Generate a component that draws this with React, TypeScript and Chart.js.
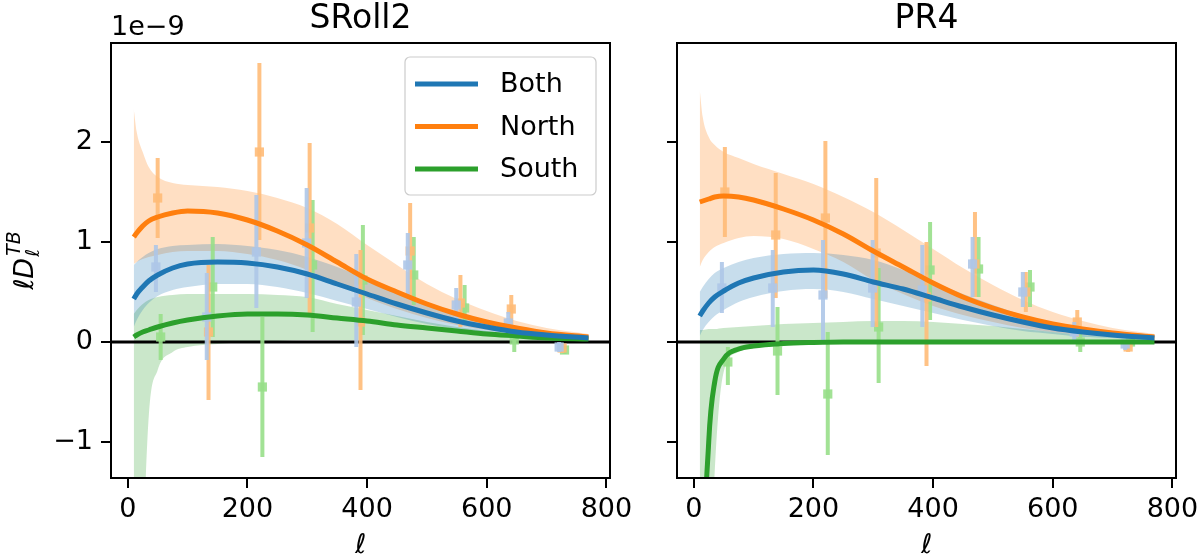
import React, { useEffect, useRef } from "react";
import { Chart, registerables } from "chart.js";

Chart.register(...registerables);

const FONT = "'DejaVu Sans', sans-serif";

// ---------- axes ----------
const xTicks = [0, 200, 400, 600, 800];
const yTicks = [-1, 0, 1, 2];
const yTickLabels = ["\u22121", "0", "1", "2"];
const xRange = [-28, 806];
const yRange = [-1.36, 2.99];

// ---------- multipole grid for model curves ----------
const ELL = [10, 15, 25, 35, 50, 75, 100, 150, 200, 250, 300, 350, 400, 450, 500, 550, 600, 650, 700, 770];

// ---------- SRoll2 model curves (units of 1e-9) ----------
const srBoth = [0.43, 0.48, 0.55, 0.61, 0.67, 0.74, 0.78, 0.8, 0.79, 0.75, 0.68, 0.58, 0.48, 0.38, 0.29, 0.21, 0.15, 0.1, 0.07, 0.04];
const srBothHi = [0.77, 0.8, 0.85, 0.89, 0.93, 0.96, 0.97, 0.98, 0.96, 0.92, 0.85, 0.75, 0.63, 0.5, 0.38, 0.28, 0.2, 0.14, 0.09, 0.05];
const srBothLo = [0.15, 0.22, 0.32, 0.39, 0.46, 0.52, 0.55, 0.58, 0.58, 0.55, 0.49, 0.41, 0.33, 0.25, 0.18, 0.13, 0.09, 0.06, 0.04, 0.02];
const srNorth = [1.05, 1.09, 1.16, 1.21, 1.25, 1.29, 1.31, 1.29, 1.22, 1.11, 0.97, 0.8, 0.63, 0.5, 0.38, 0.28, 0.2, 0.14, 0.09, 0.05];
const srNorthHi = [2.33, 2.1, 1.9, 1.75, 1.65, 1.59, 1.57, 1.55, 1.51, 1.44, 1.34, 1.18, 0.97, 0.77, 0.58, 0.43, 0.31, 0.21, 0.14, 0.08];
const srNorthLo = [0.78, 0.8, 0.83, 0.85, 0.87, 0.9, 0.91, 0.91, 0.88, 0.82, 0.72, 0.58, 0.44, 0.33, 0.24, 0.17, 0.12, 0.08, 0.05, 0.03];
const srSouth = [0.05, 0.07, 0.1, 0.12, 0.15, 0.19, 0.22, 0.26, 0.28, 0.28, 0.27, 0.24, 0.21, 0.17, 0.14, 0.11, 0.08, 0.06, 0.04, 0.03];
const srSouthHi = [0.28, 0.32, 0.38, 0.42, 0.45, 0.47, 0.48, 0.48, 0.48, 0.47, 0.45, 0.38, 0.32, 0.26, 0.2, 0.15, 0.11, 0.08, 0.06, 0.045];
const srSouthLo = [-5, -4, -2.2, -0.75, -0.28, -0.1, -0.05, -0.02, 0, 0.01, 0.02, 0.02, 0.02, 0.02, 0.02, 0.01, 0.01, 0.01, 0.01, 0.01];

// ---------- PR4 model curves ----------
const prBoth = [0.26, 0.31, 0.39, 0.45, 0.51, 0.59, 0.64, 0.7, 0.72, 0.68, 0.6, 0.53, 0.44, 0.35, 0.27, 0.2, 0.14, 0.1, 0.07, 0.04];
const prBothHi = [0.5, 0.55, 0.63, 0.69, 0.74, 0.8, 0.84, 0.88, 0.89, 0.87, 0.82, 0.72, 0.6, 0.48, 0.37, 0.27, 0.19, 0.13, 0.09, 0.05];
const prBothLo = [0.06, 0.12, 0.2, 0.26, 0.32, 0.4, 0.45, 0.51, 0.53, 0.5, 0.43, 0.36, 0.29, 0.22, 0.16, 0.11, 0.08, 0.05, 0.04, 0.02];
const prNorth = [1.4, 1.41, 1.43, 1.45, 1.46, 1.45, 1.42, 1.33, 1.22, 1.08, 0.91, 0.75, 0.59, 0.45, 0.34, 0.25, 0.18, 0.13, 0.09, 0.05];
const prNorthHi = [2.52, 2.25, 2.05, 1.97, 1.9, 1.84, 1.78, 1.68, 1.58, 1.45, 1.3, 1.12, 0.93, 0.74, 0.57, 0.42, 0.3, 0.21, 0.14, 0.08];
const prNorthLo = [0.75, 0.82, 0.9, 0.95, 0.99, 1.04, 1.06, 1.03, 0.93, 0.8, 0.62, 0.48, 0.36, 0.27, 0.2, 0.14, 0.1, 0.07, 0.05, 0.03];
const prSouth = [-6, -2.8, -1.0, -0.4, -0.17, -0.07, -0.04, -0.015, -0.005, 0, 0, 0, 0, 0, 0, 0, 0, 0, 0, 0];
const prSouthHi = [0.12, 0.12, 0.13, 0.13, 0.14, 0.15, 0.16, 0.18, 0.19, 0.2, 0.21, 0.21, 0.2, 0.18, 0.16, 0.13, 0.1, 0.07, 0.05, 0.03];
const prSouthLo = [-6, -5, -3, -1.3, -0.3, -0.1, -0.05, -0.02, -0.01, 0, 0, 0, 0, 0, 0, 0, 0, 0, 0, 0];

// ---------- SRoll2 binned data points ----------
const srBothEll = [47, 132, 215, 299, 382, 468, 549, 636, 721];
const srBothVal = [0.75, 0.25, 0.9, 0.99, 0.4, 0.77, 0.37, 0.19, -0.05];
const srBothErrLo = [0.5, -0.18, 0.34, 0.44, -0.05, 0.47, 0.22, 0.09, -0.1];
const srBothErrHi = [0.97, 0.69, 1.47, 1.54, 0.88, 1.09, 0.54, 0.3, 0.0];
const srNorthEll = [50, 135, 220, 304, 389, 472, 556, 641, 726];
const srNorthVal = [1.44, 0.1, 1.9, 1.14, 0.2, 0.91, 0.39, 0.33, -0.06];
const srNorthErrLo = [1.04, -0.58, 1.02, 0.29, -0.48, 0.44, 0.15, 0.17, -0.11];
const srNorthErrHi = [1.84, 0.77, 2.79, 1.99, 0.92, 1.39, 0.67, 0.47, -0.01];
const srSouthEll = [55, 142, 225, 309, 393, 478, 563, 646, 730];
const srSouthVal = [0.05, 0.55, -0.45, 0.77, 0.62, 0.67, 0.34, 0.02, -0.08];
const srSouthErrLo = [-0.18, 0.05, -1.15, 0.1, 0.07, 0.37, 0.19, -0.1, -0.12];
const srSouthErrHi = [0.28, 1.05, 0.25, 1.42, 1.17, 1.05, 0.57, 0.08, -0.04];

// ---------- PR4 binned data points ----------
const prBothEll = [47, 132, 216, 299, 382, 466, 550, 636, 721];
const prBothVal = [0.54, 0.54, 0.47, 0.54, 0.52, 0.78, 0.5, 0.1, -0.02];
const prBothErrLo = [0.29, 0.15, 0.0, 0.15, 0.15, 0.45, 0.35, 0.0, -0.08];
const prBothErrHi = [0.8, 0.92, 1.02, 1.02, 0.97, 1.05, 0.7, 0.2, 0.02];
const prNorthEll = [52, 137, 220, 305, 389, 470, 555, 641, 726];
const prNorthVal = [1.5, 1.07, 1.24, 0.89, 0.45, 0.78, 0.5, 0.2, -0.05];
const prNorthErrLo = [1.05, 0.44, 0.44, 0.15, -0.24, 0.45, 0.3, 0.05, -0.1];
const prNorthErrHi = [1.95, 1.69, 2.01, 1.64, 1.0, 1.3, 0.7, 0.32, 0.0];
const prSouthEll = [57, 140, 224, 309, 395, 476, 562, 646, 730];
const prSouthVal = [-0.2, -0.09, -0.52, 0.15, 0.72, 0.73, 0.55, 0.0, 0.0];
const prSouthErrLo = [-0.43, -0.53, -1.13, -0.41, 0.22, 0.45, 0.35, -0.1, -0.03];
const prSouthErrHi = [-0.05, 0.35, 0.1, 0.74, 1.2, 1.05, 0.72, 0.08, 0.03];

const legendLabels = ["Both", "North", "South"];

// ---------- colours ----------
const MAIN = ["#1f77b4", "#ff7f0e", "#2ca02c"];
const LIGHT = ["rgba(174,199,232,0.9)", "rgba(255,187,120,0.9)", "rgba(152,223,138,0.9)"];
const BAND = ["rgba(31,119,180,0.25)", "rgba(255,127,14,0.25)", "rgba(44,160,44,0.25)"];

const zip = (xs: number[], ys: number[]) => xs.map((x, i) => ({ x, y: ys[i] }));

type Series = {
  curve: number[]; hi: number[]; lo: number[];
  ell: number[]; val: number[]; errLo: number[]; errHi: number[];
};

const SROLL2: Series[] = [
  { curve: srBoth, hi: srBothHi, lo: srBothLo, ell: srBothEll, val: srBothVal, errLo: srBothErrLo, errHi: srBothErrHi },
  { curve: srNorth, hi: srNorthHi, lo: srNorthLo, ell: srNorthEll, val: srNorthVal, errLo: srNorthErrLo, errHi: srNorthErrHi },
  { curve: srSouth, hi: srSouthHi, lo: srSouthLo, ell: srSouthEll, val: srSouthVal, errLo: srSouthErrLo, errHi: srSouthErrHi },
];
const PR4: Series[] = [
  { curve: prBoth, hi: prBothHi, lo: prBothLo, ell: prBothEll, val: prBothVal, errLo: prBothErrLo, errHi: prBothErrHi },
  { curve: prNorth, hi: prNorthHi, lo: prNorthLo, ell: prNorthEll, val: prNorthVal, errLo: prNorthErrLo, errHi: prNorthErrHi },
  { curve: prSouth, hi: prSouthHi, lo: prSouthLo, ell: prSouthEll, val: prSouthVal, errLo: prSouthErrLo, errHi: prSouthErrHi },
];

const errorBarPlugin = {
  id: "errbars",
  beforeDatasetDraw(chart: any, args: any) {
    const ds: any = chart.data.datasets[args.index];
    if (!ds.errLo) return;
    const { ctx, chartArea: a, scales } = chart;
    ctx.save();
    ctx.beginPath();
    ctx.rect(a.left, a.top, a.right - a.left, a.bottom - a.top);
    ctx.clip();
    ctx.strokeStyle = ds.errColor;
    ctx.lineWidth = 4;
    ds.data.forEach((p: any, i: number) => {
      const x = scales.x.getPixelForValue(p.x);
      ctx.beginPath();
      ctx.moveTo(x, scales.y.getPixelForValue(ds.errLo[i]));
      ctx.lineTo(x, scales.y.getPixelForValue(ds.errHi[i]));
      ctx.stroke();
    });
    ctx.restore();
  },
};

function textPlugin(title: string, isLeft: boolean) {
  return {
    id: "texts",
    afterDraw(chart: any) {
      const { ctx, chartArea: a } = chart;
      ctx.save();
      ctx.strokeStyle = "#000";
      ctx.lineWidth = 2;
      ctx.strokeRect(a.left, a.top, a.right - a.left, a.bottom - a.top);
      const cx = (a.left + a.right) / 2;
      ctx.fillStyle = "#000";
      ctx.textBaseline = "alphabetic";
      ctx.textAlign = "center";
      ctx.font = `33px ${FONT}`;
      ctx.fillText(title, cx, 28);
      ctx.font = `italic 27px ${FONT}`;
      ctx.fillText("\u2113", cx, 553);
      if (isLeft) {
        ctx.textAlign = "left";
        ctx.font = `27px ${FONT}`;
        ctx.fillText("1e\u22129", a.left, 35);

        // y-axis label: l D_l^{TB}
        const main = `italic 27px ${FONT}`;
        const small = `italic 19px ${FONT}`;
        ctx.font = main;
        const wMain = ctx.measureText("\u2113D").width;
        ctx.font = small;
        const wSub = ctx.measureText("\u2113").width;
        const wSup = ctx.measureText("TB").width;
        const total = wMain + Math.max(wSub, wSup) + 2;
        ctx.translate(33, (a.top + a.bottom) / 2);
        ctx.rotate(-Math.PI / 2);
        const x0 = -total / 2;
        ctx.font = main;
        ctx.fillText("\u2113D", x0, 0);
        ctx.font = small;
        ctx.fillText("TB", x0 + wMain + 2, -13);
        ctx.fillText("\u2113", x0 + wMain + 1, 6);
        ctx.setTransform(1, 0, 0, 1, 0, 0);

        // legend
        const bx = 405, by = 57, bw = 191, bh = 138;
        ctx.beginPath();
        ctx.roundRect(bx, by, bw, bh, 5);
        ctx.fillStyle = "rgba(255,255,255,0.8)";
        ctx.fill();
        ctx.strokeStyle = "#cccccc";
        ctx.lineWidth = 1.2;
        ctx.stroke();
        ctx.font = `27px ${FONT}`;
        ctx.textBaseline = "middle";
        legendLabels.forEach((lab, i) => {
          const y = 84 + i * 42.5;
          ctx.strokeStyle = MAIN[i];
          ctx.lineWidth = 5;
          ctx.beginPath();
          ctx.moveTo(415, y);
          ctx.lineTo(478, y);
          ctx.stroke();
          ctx.fillStyle = "#000";
          ctx.fillText(lab, 500, y + 1);
        });
      }
      ctx.restore();
    },
  };
}

function buildConfig(series: Series[], title: string, isLeft: boolean, axisWidth: number, padRight: number) {
  const datasets: any[] = [];
  series.forEach((s, i) => {
    datasets.push({
      data: zip(ELL, s.hi), borderWidth: 0, borderColor: "transparent", pointRadius: 0,
      fill: "+1", backgroundColor: BAND[i], order: 40, cubicInterpolationMode: "monotone",
    });
    datasets.push({
      data: zip(ELL, s.lo), borderWidth: 0, borderColor: "transparent", pointRadius: 0,
      fill: false, order: 40, cubicInterpolationMode: "monotone",
    });
  });
  datasets.push({
    data: [{ x: -100, y: 0 }, { x: 1000, y: 0 }], borderColor: "#000", borderWidth: 3,
    pointRadius: 0, fill: false, order: 30,
  });
  series.forEach((s, i) => {
    datasets.push({
      data: zip(s.ell, s.val), showLine: false, pointStyle: "rect", pointRadius: 6.5,
      backgroundColor: LIGHT[i], borderWidth: 0, order: 20,
      errLo: s.errLo, errHi: s.errHi, errColor: LIGHT[i],
    });
  });
  series.forEach((s, i) => {
    datasets.push({
      data: zip(ELL, s.curve), borderColor: MAIN[i], borderWidth: 5, pointRadius: 0,
      fill: false, order: 10, cubicInterpolationMode: "monotone",
    });
  });

  return {
    type: "line",
    data: { datasets },
    options: {
      animation: false,
      responsive: false,
      events: [],
      layout: { padding: { top: 43, left: 0, right: padRight, bottom: 0 } },
      plugins: { legend: { display: false }, tooltip: { enabled: false } },
      scales: {
        x: {
          type: "linear",
          min: xRange[0],
          max: xRange[1],
          afterBuildTicks: (sc: any) => { sc.ticks = xTicks.map((v) => ({ value: v })); },
          afterFit: (sc: any) => { sc.height = 82; sc.paddingLeft = 0; sc.paddingRight = 0; },
          ticks: {
            color: "#000", font: { size: 27, family: FONT }, padding: 6,
            maxRotation: 0, autoSkip: false, callback: (v: any) => String(v),
          },
          grid: { drawOnChartArea: false, drawTicks: true, tickLength: 10, color: "#000", lineWidth: 2 },
          border: { display: false },
        },
        y: {
          type: "linear",
          min: yRange[0],
          max: yRange[1],
          afterBuildTicks: (sc: any) => { sc.ticks = yTicks.map((v) => ({ value: v })); },
          afterFit: (sc: any) => { sc.width = axisWidth; sc.paddingTop = 0; sc.paddingBottom = 0; },
          ticks: {
            color: "#000", font: { size: 27, family: FONT }, padding: 8, autoSkip: false,
            callback: (v: any) => {
              if (!isLeft) return "";
              const k = yTicks.indexOf(v);
              return k >= 0 ? yTickLabels[k] : "";
            },
          },
          grid: { drawOnChartArea: false, drawTicks: true, tickLength: 10, color: "#000", lineWidth: 2 },
          border: { display: false },
        },
      },
    },
    plugins: [errorBarPlugin, textPlugin(title, isLeft)],
  };
}

function Panel(props: { series: Series[]; title: string; isLeft: boolean; left: number; width: number; axisWidth: number; padRight: number }) {
  const ref = useRef<HTMLCanvasElement | null>(null);
  useEffect(() => {
    if (!ref.current) return;
    const chart = new Chart(ref.current, buildConfig(props.series, props.title, props.isLeft, props.axisWidth, props.padRight) as any);
    return () => chart.destroy();
  }, []);
  return (
    <canvas
      ref={ref}
      width={props.width}
      height={560}
      style={{ position: "absolute", left: props.left, top: 0, width: props.width, height: 560 }}
    />
  );
}

export default function App() {
  return (
    <div style={{ position: "absolute", left: 0, top: 0, width: 1200, height: 560, background: "#fff", overflow: "hidden" }}>
      <Panel series={SROLL2} title="SRoll2" isLeft={true} left={0} width={640} axisWidth={111} padRight={30} />
      <Panel series={PR4} title="PR4" isLeft={false} left={640} width={560} axisWidth={37} padRight={24} />
    </div>
  );
}
